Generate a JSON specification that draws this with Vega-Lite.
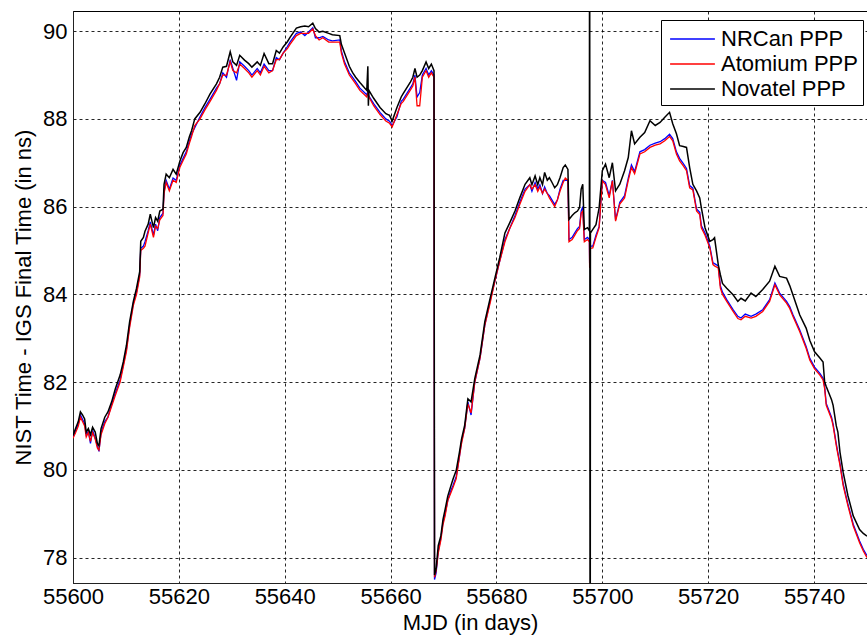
{
"$schema":"https://vega.github.io/schema/vega-lite/v6.json",
"width":794,"height":572,
"autosize":{"type":"none"},
"padding":{"left":73,"top":11,"right":0,"bottom":53},
"background":"white",
"config":{"font":"Liberation Sans","view":{"stroke":"#000","strokeWidth":1},
"axis":{"grid":true,"gridColor":"#000","gridDash":[3,3],"gridWidth":1,"gridOpacity":0.85,"ticks":false,"domainColor":"#222","domainWidth":1,"labelFont":"Liberation Sans","labelFontSize":22,"labelColor":"#000","titleFont":"Liberation Sans","titleFontSize":22,"titleFontWeight":"normal","titleColor":"#000"}},
"data":{"values":[
{"mjd":55600.0,"NRCan PPP":80.74,"Atomium PPP":80.72,"Novatel PPP":80.78},
{"mjd":55600.5,"NRCan PPP":80.9,"Atomium PPP":80.85,"Novatel PPP":80.95},
{"mjd":55601.0,"NRCan PPP":81.05,"Atomium PPP":81.0,"Novatel PPP":81.1},
{"mjd":55601.4,"NRCan PPP":81.25,"Atomium PPP":81.2,"Novatel PPP":81.32},
{"mjd":55601.8,"NRCan PPP":81.15,"Atomium PPP":81.1,"Novatel PPP":81.25},
{"mjd":55602.2,"NRCan PPP":81.05,"Atomium PPP":81.0,"Novatel PPP":81.16},
{"mjd":55602.5,"NRCan PPP":80.8,"Atomium PPP":80.75,"Novatel PPP":80.86},
{"mjd":55602.9,"NRCan PPP":80.88,"Atomium PPP":80.85,"Novatel PPP":80.94},
{"mjd":55603.3,"NRCan PPP":80.6,"Atomium PPP":80.65,"Novatel PPP":80.8},
{"mjd":55603.7,"NRCan PPP":80.9,"Atomium PPP":80.85,"Novatel PPP":80.97},
{"mjd":55604.2,"NRCan PPP":80.72,"Atomium PPP":80.7,"Novatel PPP":80.86},
{"mjd":55604.6,"NRCan PPP":80.55,"Atomium PPP":80.5,"Novatel PPP":80.6},
{"mjd":55604.9,"NRCan PPP":80.42,"Atomium PPP":80.45,"Novatel PPP":80.55},
{"mjd":55605.3,"NRCan PPP":80.85,"Atomium PPP":80.8,"Novatel PPP":80.94},
{"mjd":55606.0,"NRCan PPP":81.1,"Atomium PPP":81.05,"Novatel PPP":81.2},
{"mjd":55606.6,"NRCan PPP":81.2,"Atomium PPP":81.2,"Novatel PPP":81.32},
{"mjd":55607.3,"NRCan PPP":81.5,"Atomium PPP":81.45,"Novatel PPP":81.55},
{"mjd":55608.0,"NRCan PPP":81.75,"Atomium PPP":81.7,"Novatel PPP":81.85},
{"mjd":55608.9,"NRCan PPP":82.05,"Atomium PPP":82.0,"Novatel PPP":82.16},
{"mjd":55609.5,"NRCan PPP":82.4,"Atomium PPP":82.35,"Novatel PPP":82.46},
{"mjd":55610.1,"NRCan PPP":82.75,"Atomium PPP":82.7,"Novatel PPP":82.84},
{"mjd":55610.7,"NRCan PPP":83.3,"Atomium PPP":83.25,"Novatel PPP":83.38},
{"mjd":55611.4,"NRCan PPP":83.8,"Atomium PPP":83.75,"Novatel PPP":83.84},
{"mjd":55612.0,"NRCan PPP":84.05,"Atomium PPP":84.0,"Novatel PPP":84.14},
{"mjd":55612.6,"NRCan PPP":84.45,"Atomium PPP":84.4,"Novatel PPP":84.52},
{"mjd":55612.8,"NRCan PPP":85.05,"Atomium PPP":85.0,"Novatel PPP":85.21},
{"mjd":55613.3,"NRCan PPP":85.1,"Atomium PPP":85.05,"Novatel PPP":85.3},
{"mjd":55613.6,"NRCan PPP":85.2,"Atomium PPP":85.1,"Novatel PPP":85.44},
{"mjd":55614.2,"NRCan PPP":85.45,"Atomium PPP":85.4,"Novatel PPP":85.6},
{"mjd":55614.6,"NRCan PPP":85.65,"Atomium PPP":85.6,"Novatel PPP":85.83},
{"mjd":55615.2,"NRCan PPP":85.35,"Atomium PPP":85.3,"Novatel PPP":85.52},
{"mjd":55615.6,"NRCan PPP":85.6,"Atomium PPP":85.55,"Novatel PPP":85.75},
{"mjd":55616.0,"NRCan PPP":85.45,"Atomium PPP":85.5,"Novatel PPP":85.67},
{"mjd":55616.4,"NRCan PPP":85.75,"Atomium PPP":85.7,"Novatel PPP":85.9},
{"mjd":55617.0,"NRCan PPP":85.85,"Atomium PPP":85.8,"Novatel PPP":85.94},
{"mjd":55617.2,"NRCan PPP":86.35,"Atomium PPP":86.3,"Novatel PPP":86.51},
{"mjd":55617.6,"NRCan PPP":86.6,"Atomium PPP":86.55,"Novatel PPP":86.74},
{"mjd":55618.2,"NRCan PPP":86.4,"Atomium PPP":86.36,"Novatel PPP":86.66},
{"mjd":55618.9,"NRCan PPP":86.65,"Atomium PPP":86.6,"Novatel PPP":86.85},
{"mjd":55619.5,"NRCan PPP":86.6,"Atomium PPP":86.55,"Novatel PPP":86.74},
{"mjd":55620.2,"NRCan PPP":86.95,"Atomium PPP":86.9,"Novatel PPP":87.04},
{"mjd":55620.8,"NRCan PPP":87.1,"Atomium PPP":87.05,"Novatel PPP":87.23},
{"mjd":55621.4,"NRCan PPP":87.25,"Atomium PPP":87.2,"Novatel PPP":87.35},
{"mjd":55622.0,"NRCan PPP":87.5,"Atomium PPP":87.45,"Novatel PPP":87.6},
{"mjd":55622.4,"NRCan PPP":87.65,"Atomium PPP":87.6,"Novatel PPP":87.73},
{"mjd":55623.0,"NRCan PPP":87.8,"Atomium PPP":87.85,"Novatel PPP":88.0},
{"mjd":55624.0,"NRCan PPP":88.05,"Atomium PPP":88.0,"Novatel PPP":88.15},
{"mjd":55624.9,"NRCan PPP":88.25,"Atomium PPP":88.2,"Novatel PPP":88.34},
{"mjd":55625.9,"NRCan PPP":88.45,"Atomium PPP":88.4,"Novatel PPP":88.57},
{"mjd":55627.1,"NRCan PPP":88.7,"Atomium PPP":88.65,"Novatel PPP":88.8},
{"mjd":55627.7,"NRCan PPP":88.8,"Atomium PPP":88.8,"Novatel PPP":88.95},
{"mjd":55628.3,"NRCan PPP":89.05,"Atomium PPP":89.0,"Novatel PPP":89.18},
{"mjd":55629.0,"NRCan PPP":88.95,"Atomium PPP":89.0,"Novatel PPP":89.2},
{"mjd":55629.7,"NRCan PPP":89.35,"Atomium PPP":89.3,"Novatel PPP":89.53},
{"mjd":55630.2,"NRCan PPP":89.15,"Atomium PPP":89.1,"Novatel PPP":89.3},
{"mjd":55630.9,"NRCan PPP":88.88,"Atomium PPP":89.05,"Novatel PPP":89.22},
{"mjd":55631.5,"NRCan PPP":89.3,"Atomium PPP":89.25,"Novatel PPP":89.45},
{"mjd":55632.4,"NRCan PPP":89.2,"Atomium PPP":89.15,"Novatel PPP":89.34},
{"mjd":55633.2,"NRCan PPP":89.1,"Atomium PPP":89.05,"Novatel PPP":89.26},
{"mjd":55633.8,"NRCan PPP":89.0,"Atomium PPP":88.95,"Novatel PPP":89.18},
{"mjd":55634.8,"NRCan PPP":89.15,"Atomium PPP":89.1,"Novatel PPP":89.3},
{"mjd":55635.4,"NRCan PPP":89.05,"Atomium PPP":89.0,"Novatel PPP":89.22},
{"mjd":55636.1,"NRCan PPP":89.25,"Atomium PPP":89.2,"Novatel PPP":89.49},
{"mjd":55637.0,"NRCan PPP":89.1,"Atomium PPP":89.05,"Novatel PPP":89.26},
{"mjd":55637.7,"NRCan PPP":89.1,"Atomium PPP":89.1,"Novatel PPP":89.26},
{"mjd":55638.4,"NRCan PPP":89.4,"Atomium PPP":89.35,"Novatel PPP":89.56},
{"mjd":55639.0,"NRCan PPP":89.35,"Atomium PPP":89.35,"Novatel PPP":89.5},
{"mjd":55639.7,"NRCan PPP":89.5,"Atomium PPP":89.5,"Novatel PPP":89.64},
{"mjd":55640.5,"NRCan PPP":89.65,"Atomium PPP":89.6,"Novatel PPP":89.76},
{"mjd":55641.0,"NRCan PPP":89.75,"Atomium PPP":89.7,"Novatel PPP":89.86},
{"mjd":55642.2,"NRCan PPP":89.95,"Atomium PPP":89.9,"Novatel PPP":90.07},
{"mjd":55643.0,"NRCan PPP":89.98,"Atomium PPP":89.95,"Novatel PPP":90.1},
{"mjd":55643.8,"NRCan PPP":89.9,"Atomium PPP":89.95,"Novatel PPP":90.12},
{"mjd":55644.5,"NRCan PPP":89.98,"Atomium PPP":89.95,"Novatel PPP":90.1},
{"mjd":55645.3,"NRCan PPP":90.08,"Atomium PPP":90.05,"Novatel PPP":90.18},
{"mjd":55645.8,"NRCan PPP":89.85,"Atomium PPP":89.9,"Novatel PPP":90.06},
{"mjd":55646.5,"NRCan PPP":89.85,"Atomium PPP":89.8,"Novatel PPP":89.98},
{"mjd":55647.2,"NRCan PPP":89.88,"Atomium PPP":89.85,"Novatel PPP":90.0},
{"mjd":55648.3,"NRCan PPP":89.8,"Atomium PPP":89.75,"Novatel PPP":89.95},
{"mjd":55649.0,"NRCan PPP":89.78,"Atomium PPP":89.75,"Novatel PPP":89.92},
{"mjd":55650.4,"NRCan PPP":89.8,"Atomium PPP":89.75,"Novatel PPP":89.9},
{"mjd":55650.7,"NRCan PPP":89.55,"Atomium PPP":89.5,"Novatel PPP":89.7},
{"mjd":55651.3,"NRCan PPP":89.3,"Atomium PPP":89.25,"Novatel PPP":89.5},
{"mjd":55652.2,"NRCan PPP":89.05,"Atomium PPP":89.0,"Novatel PPP":89.2},
{"mjd":55652.8,"NRCan PPP":88.95,"Atomium PPP":88.9,"Novatel PPP":89.06},
{"mjd":55653.4,"NRCan PPP":88.85,"Atomium PPP":88.8,"Novatel PPP":88.95},
{"mjd":55654.2,"NRCan PPP":88.7,"Atomium PPP":88.65,"Novatel PPP":88.83},
{"mjd":55655.5,"NRCan PPP":88.55,"Atomium PPP":88.5,"Novatel PPP":88.65},
{"mjd":55655.7,"NRCan PPP":88.62,"Atomium PPP":88.6,"Novatel PPP":89.2},
{"mjd":55655.8,"NRCan PPP":88.58,"Atomium PPP":88.55,"Novatel PPP":88.3},
{"mjd":55655.9,"NRCan PPP":88.52,"Atomium PPP":88.5,"Novatel PPP":88.65},
{"mjd":55656.8,"NRCan PPP":88.35,"Atomium PPP":88.3,"Novatel PPP":88.47},
{"mjd":55658.0,"NRCan PPP":88.15,"Atomium PPP":88.1,"Novatel PPP":88.26},
{"mjd":55659.1,"NRCan PPP":88.0,"Atomium PPP":87.95,"Novatel PPP":88.12},
{"mjd":55659.8,"NRCan PPP":87.95,"Atomium PPP":87.9,"Novatel PPP":88.08},
{"mjd":55660.3,"NRCan PPP":87.85,"Atomium PPP":87.82,"Novatel PPP":87.95},
{"mjd":55661.2,"NRCan PPP":88.05,"Atomium PPP":88.1,"Novatel PPP":88.26},
{"mjd":55662.0,"NRCan PPP":88.4,"Atomium PPP":88.35,"Novatel PPP":88.5},
{"mjd":55662.4,"NRCan PPP":88.45,"Atomium PPP":88.4,"Novatel PPP":88.58},
{"mjd":55663.7,"NRCan PPP":88.7,"Atomium PPP":88.65,"Novatel PPP":88.83},
{"mjd":55664.2,"NRCan PPP":88.8,"Atomium PPP":88.75,"Novatel PPP":88.95},
{"mjd":55664.6,"NRCan PPP":89.0,"Atomium PPP":88.95,"Novatel PPP":89.15},
{"mjd":55665.0,"NRCan PPP":88.5,"Atomium PPP":88.3,"Novatel PPP":88.95},
{"mjd":55665.5,"NRCan PPP":88.6,"Atomium PPP":88.3,"Novatel PPP":89.0},
{"mjd":55666.0,"NRCan PPP":89.0,"Atomium PPP":88.95,"Novatel PPP":89.1},
{"mjd":55666.7,"NRCan PPP":89.15,"Atomium PPP":89.1,"Novatel PPP":89.3},
{"mjd":55667.2,"NRCan PPP":89.0,"Atomium PPP":88.95,"Novatel PPP":89.15},
{"mjd":55667.7,"NRCan PPP":89.1,"Atomium PPP":89.05,"Novatel PPP":89.25},
{"mjd":55668.2,"NRCan PPP":89.0,"Atomium PPP":88.95,"Novatel PPP":89.1},
{"mjd":55668.3,"NRCan PPP":77.5,"Atomium PPP":77.55,"Novatel PPP":77.6},
{"mjd":55668.6,"NRCan PPP":77.65,"Atomium PPP":77.7,"Novatel PPP":77.75},
{"mjd":55669.0,"NRCan PPP":78.15,"Atomium PPP":78.1,"Novatel PPP":78.27},
{"mjd":55669.5,"NRCan PPP":78.45,"Atomium PPP":78.4,"Novatel PPP":78.5},
{"mjd":55669.9,"NRCan PPP":78.8,"Atomium PPP":78.75,"Novatel PPP":78.87},
{"mjd":55670.3,"NRCan PPP":79.0,"Atomium PPP":78.95,"Novatel PPP":79.1},
{"mjd":55670.8,"NRCan PPP":79.3,"Atomium PPP":79.3,"Novatel PPP":79.4},
{"mjd":55671.3,"NRCan PPP":79.5,"Atomium PPP":79.45,"Novatel PPP":79.6},
{"mjd":55671.8,"NRCan PPP":79.65,"Atomium PPP":79.6,"Novatel PPP":79.79},
{"mjd":55672.4,"NRCan PPP":79.85,"Atomium PPP":79.8,"Novatel PPP":79.99},
{"mjd":55673.0,"NRCan PPP":80.3,"Atomium PPP":80.3,"Novatel PPP":80.4},
{"mjd":55673.4,"NRCan PPP":80.65,"Atomium PPP":80.6,"Novatel PPP":80.7},
{"mjd":55674.0,"NRCan PPP":80.95,"Atomium PPP":80.95,"Novatel PPP":81.02},
{"mjd":55674.6,"NRCan PPP":81.55,"Atomium PPP":81.5,"Novatel PPP":81.62},
{"mjd":55675.2,"NRCan PPP":81.25,"Atomium PPP":81.3,"Novatel PPP":81.55},
{"mjd":55675.9,"NRCan PPP":82.0,"Atomium PPP":82.0,"Novatel PPP":82.08},
{"mjd":55676.9,"NRCan PPP":82.55,"Atomium PPP":82.55,"Novatel PPP":82.62},
{"mjd":55677.8,"NRCan PPP":83.3,"Atomium PPP":83.3,"Novatel PPP":83.38},
{"mjd":55678.8,"NRCan PPP":83.85,"Atomium PPP":83.8,"Novatel PPP":83.91},
{"mjd":55679.7,"NRCan PPP":84.3,"Atomium PPP":84.3,"Novatel PPP":84.37},
{"mjd":55680.6,"NRCan PPP":84.75,"Atomium PPP":84.75,"Novatel PPP":84.83},
{"mjd":55681.6,"NRCan PPP":85.25,"Atomium PPP":85.2,"Novatel PPP":85.4},
{"mjd":55682.5,"NRCan PPP":85.5,"Atomium PPP":85.5,"Novatel PPP":85.63},
{"mjd":55683.5,"NRCan PPP":85.8,"Atomium PPP":85.75,"Novatel PPP":85.9},
{"mjd":55684.4,"NRCan PPP":86.1,"Atomium PPP":86.05,"Novatel PPP":86.2},
{"mjd":55685.4,"NRCan PPP":86.4,"Atomium PPP":86.35,"Novatel PPP":86.51},
{"mjd":55686.3,"NRCan PPP":86.5,"Atomium PPP":86.5,"Novatel PPP":86.66},
{"mjd":55686.7,"NRCan PPP":86.35,"Atomium PPP":86.4,"Novatel PPP":86.5},
{"mjd":55687.3,"NRCan PPP":86.55,"Atomium PPP":86.5,"Novatel PPP":86.7},
{"mjd":55687.8,"NRCan PPP":86.4,"Atomium PPP":86.35,"Novatel PPP":86.5},
{"mjd":55688.2,"NRCan PPP":86.5,"Atomium PPP":86.45,"Novatel PPP":86.66},
{"mjd":55688.7,"NRCan PPP":86.3,"Atomium PPP":86.3,"Novatel PPP":86.5},
{"mjd":55689.1,"NRCan PPP":86.45,"Atomium PPP":86.4,"Novatel PPP":86.78},
{"mjd":55689.6,"NRCan PPP":86.3,"Atomium PPP":86.3,"Novatel PPP":86.6},
{"mjd":55690.0,"NRCan PPP":86.25,"Atomium PPP":86.2,"Novatel PPP":86.66},
{"mjd":55690.5,"NRCan PPP":86.15,"Atomium PPP":86.1,"Novatel PPP":86.55},
{"mjd":55691.0,"NRCan PPP":86.05,"Atomium PPP":86.0,"Novatel PPP":86.43},
{"mjd":55691.5,"NRCan PPP":86.15,"Atomium PPP":86.15,"Novatel PPP":86.5},
{"mjd":55692.0,"NRCan PPP":86.4,"Atomium PPP":86.35,"Novatel PPP":86.66},
{"mjd":55692.6,"NRCan PPP":86.6,"Atomium PPP":86.55,"Novatel PPP":86.89},
{"mjd":55693.0,"NRCan PPP":86.6,"Atomium PPP":86.65,"Novatel PPP":86.95},
{"mjd":55693.5,"NRCan PPP":86.6,"Atomium PPP":86.6,"Novatel PPP":86.85},
{"mjd":55693.7,"NRCan PPP":85.25,"Atomium PPP":85.2,"Novatel PPP":85.71},
{"mjd":55694.3,"NRCan PPP":85.3,"Atomium PPP":85.25,"Novatel PPP":85.8},
{"mjd":55694.8,"NRCan PPP":85.4,"Atomium PPP":85.35,"Novatel PPP":85.86},
{"mjd":55695.3,"NRCan PPP":85.5,"Atomium PPP":85.45,"Novatel PPP":85.9},
{"mjd":55695.7,"NRCan PPP":85.55,"Atomium PPP":85.5,"Novatel PPP":85.98},
{"mjd":55696.0,"NRCan PPP":85.9,"Atomium PPP":85.85,"Novatel PPP":86.4},
{"mjd":55696.3,"NRCan PPP":86.0,"Atomium PPP":85.9,"Novatel PPP":86.51},
{"mjd":55696.6,"NRCan PPP":85.25,"Atomium PPP":85.2,"Novatel PPP":85.48},
{"mjd":55697.2,"NRCan PPP":85.3,"Atomium PPP":85.25,"Novatel PPP":85.52},
{"mjd":55697.55,"NRCan PPP":85.25,"Atomium PPP":85.2,"Novatel PPP":85.45},
{"mjd":55697.6,"NRCan PPP":84.7,"Atomium PPP":84.6,"Novatel PPP":96},
{"mjd":55697.7,"NRCan PPP":85.15,"Atomium PPP":85.1,"Novatel PPP":70},
{"mjd":55697.75,"NRCan PPP":85.1,"Atomium PPP":85.05,"Novatel PPP":85.4},
{"mjd":55698.2,"NRCan PPP":85.1,"Atomium PPP":85.06,"Novatel PPP":85.48},
{"mjd":55698.8,"NRCan PPP":85.35,"Atomium PPP":85.3,"Novatel PPP":85.59},
{"mjd":55699.4,"NRCan PPP":85.55,"Atomium PPP":85.52,"Novatel PPP":85.98},
{"mjd":55700.0,"NRCan PPP":86.6,"Atomium PPP":86.59,"Novatel PPP":86.82},
{"mjd":55700.6,"NRCan PPP":86.55,"Atomium PPP":86.5,"Novatel PPP":86.97},
{"mjd":55701.3,"NRCan PPP":86.25,"Atomium PPP":86.2,"Novatel PPP":86.66},
{"mjd":55701.9,"NRCan PPP":86.6,"Atomium PPP":86.59,"Novatel PPP":87.0},
{"mjd":55702.5,"NRCan PPP":85.7,"Atomium PPP":85.67,"Novatel PPP":86.36},
{"mjd":55703.3,"NRCan PPP":86.1,"Atomium PPP":86.06,"Novatel PPP":86.51},
{"mjd":55704.2,"NRCan PPP":86.25,"Atomium PPP":86.2,"Novatel PPP":86.82},
{"mjd":55704.9,"NRCan PPP":86.65,"Atomium PPP":86.6,"Novatel PPP":87.12},
{"mjd":55705.5,"NRCan PPP":86.95,"Atomium PPP":86.89,"Novatel PPP":87.73},
{"mjd":55706.1,"NRCan PPP":86.8,"Atomium PPP":86.75,"Novatel PPP":87.43},
{"mjd":55707.1,"NRCan PPP":87.25,"Atomium PPP":87.2,"Novatel PPP":87.58},
{"mjd":55708.0,"NRCan PPP":87.3,"Atomium PPP":87.25,"Novatel PPP":87.69},
{"mjd":55709.0,"NRCan PPP":87.4,"Atomium PPP":87.35,"Novatel PPP":87.96},
{"mjd":55710.0,"NRCan PPP":87.45,"Atomium PPP":87.4,"Novatel PPP":87.85},
{"mjd":55710.9,"NRCan PPP":87.48,"Atomium PPP":87.43,"Novatel PPP":87.92},
{"mjd":55711.8,"NRCan PPP":87.55,"Atomium PPP":87.5,"Novatel PPP":88.04},
{"mjd":55712.7,"NRCan PPP":87.65,"Atomium PPP":87.6,"Novatel PPP":88.15},
{"mjd":55713.3,"NRCan PPP":87.55,"Atomium PPP":87.5,"Novatel PPP":87.89},
{"mjd":55714.0,"NRCan PPP":87.25,"Atomium PPP":87.2,"Novatel PPP":87.66},
{"mjd":55714.6,"NRCan PPP":87.1,"Atomium PPP":87.04,"Novatel PPP":87.39},
{"mjd":55715.3,"NRCan PPP":86.98,"Atomium PPP":86.93,"Novatel PPP":87.37},
{"mjd":55715.9,"NRCan PPP":86.87,"Atomium PPP":86.82,"Novatel PPP":87.35},
{"mjd":55716.5,"NRCan PPP":86.48,"Atomium PPP":86.43,"Novatel PPP":86.89},
{"mjd":55717.1,"NRCan PPP":86.42,"Atomium PPP":86.38,"Novatel PPP":86.51},
{"mjd":55717.8,"NRCan PPP":85.95,"Atomium PPP":85.9,"Novatel PPP":86.36},
{"mjd":55718.4,"NRCan PPP":85.87,"Atomium PPP":85.82,"Novatel PPP":86.2},
{"mjd":55718.7,"NRCan PPP":85.57,"Atomium PPP":85.52,"Novatel PPP":85.98},
{"mjd":55719.4,"NRCan PPP":85.4,"Atomium PPP":85.35,"Novatel PPP":85.52},
{"mjd":55720.3,"NRCan PPP":85.1,"Atomium PPP":85.06,"Novatel PPP":85.21},
{"mjd":55720.9,"NRCan PPP":84.72,"Atomium PPP":84.68,"Novatel PPP":85.25},
{"mjd":55721.2,"NRCan PPP":84.7,"Atomium PPP":84.65,"Novatel PPP":85.29},
{"mjd":55721.9,"NRCan PPP":84.65,"Atomium PPP":84.6,"Novatel PPP":84.68},
{"mjd":55722.3,"NRCan PPP":84.2,"Atomium PPP":84.14,"Novatel PPP":84.45},
{"mjd":55722.7,"NRCan PPP":84.05,"Atomium PPP":84.0,"Novatel PPP":84.25},
{"mjd":55723.5,"NRCan PPP":83.88,"Atomium PPP":83.84,"Novatel PPP":84.14},
{"mjd":55724.7,"NRCan PPP":83.65,"Atomium PPP":83.61,"Novatel PPP":83.99},
{"mjd":55725.6,"NRCan PPP":83.5,"Atomium PPP":83.45,"Novatel PPP":83.84},
{"mjd":55726.2,"NRCan PPP":83.46,"Atomium PPP":83.42,"Novatel PPP":83.91},
{"mjd":55727.0,"NRCan PPP":83.55,"Atomium PPP":83.5,"Novatel PPP":83.85},
{"mjd":55728.1,"NRCan PPP":83.5,"Atomium PPP":83.46,"Novatel PPP":84.03},
{"mjd":55729.0,"NRCan PPP":83.55,"Atomium PPP":83.5,"Novatel PPP":83.95},
{"mjd":55730.3,"NRCan PPP":83.65,"Atomium PPP":83.61,"Novatel PPP":84.11},
{"mjd":55731.6,"NRCan PPP":83.88,"Atomium PPP":83.84,"Novatel PPP":84.3},
{"mjd":55732.6,"NRCan PPP":84.26,"Atomium PPP":84.22,"Novatel PPP":84.64},
{"mjd":55733.5,"NRCan PPP":84.03,"Atomium PPP":83.99,"Novatel PPP":84.41},
{"mjd":55734.8,"NRCan PPP":83.84,"Atomium PPP":83.8,"Novatel PPP":84.37},
{"mjd":55735.4,"NRCan PPP":83.72,"Atomium PPP":83.68,"Novatel PPP":84.2},
{"mjd":55736.0,"NRCan PPP":83.54,"Atomium PPP":83.5,"Novatel PPP":83.99},
{"mjd":55737.3,"NRCan PPP":83.19,"Atomium PPP":83.15,"Novatel PPP":83.53},
{"mjd":55738.5,"NRCan PPP":82.81,"Atomium PPP":82.77,"Novatel PPP":83.23},
{"mjd":55739.2,"NRCan PPP":82.54,"Atomium PPP":82.5,"Novatel PPP":82.95},
{"mjd":55740.1,"NRCan PPP":82.34,"Atomium PPP":82.3,"Novatel PPP":82.69},
{"mjd":55741.1,"NRCan PPP":82.2,"Atomium PPP":82.16,"Novatel PPP":82.55},
{"mjd":55741.7,"NRCan PPP":82.09,"Atomium PPP":82.05,"Novatel PPP":82.46},
{"mjd":55742.0,"NRCan PPP":81.89,"Atomium PPP":81.85,"Novatel PPP":82.0},
{"mjd":55742.3,"NRCan PPP":81.51,"Atomium PPP":81.47,"Novatel PPP":81.9},
{"mjd":55743.3,"NRCan PPP":81.2,"Atomium PPP":81.16,"Novatel PPP":81.6},
{"mjd":55743.6,"NRCan PPP":81.04,"Atomium PPP":81.0,"Novatel PPP":81.47},
{"mjd":55744.2,"NRCan PPP":80.59,"Atomium PPP":80.55,"Novatel PPP":81.0},
{"mjd":55744.5,"NRCan PPP":80.39,"Atomium PPP":80.35,"Novatel PPP":80.86},
{"mjd":55744.9,"NRCan PPP":80.14,"Atomium PPP":80.1,"Novatel PPP":80.4},
{"mjd":55745.5,"NRCan PPP":79.68,"Atomium PPP":79.64,"Novatel PPP":79.94},
{"mjd":55746.4,"NRCan PPP":79.22,"Atomium PPP":79.18,"Novatel PPP":79.41},
{"mjd":55747.4,"NRCan PPP":78.76,"Atomium PPP":78.72,"Novatel PPP":78.95},
{"mjd":55748.6,"NRCan PPP":78.38,"Atomium PPP":78.34,"Novatel PPP":78.64},
{"mjd":55749.3,"NRCan PPP":78.19,"Atomium PPP":78.15,"Novatel PPP":78.55},
{"mjd":55750.0,"NRCan PPP":78.04,"Atomium PPP":78.0,"Novatel PPP":78.49}
]},
"transform":[{"fold":["NRCan PPP","Atomium PPP","Novatel PPP"],"as":["series","ns"]}],
"encoding":{
"x":{"field":"mjd","type":"quantitative","scale":{"domain":[55600,55750],"nice":false,"zero":false},
 "axis":{"values":[55600,55620,55640,55660,55680,55700,55720,55740],"format":"d","title":"MJD (in days)","labelFlush":false,"labelPadding":3,"titlePadding":5}},
"y":{"field":"ns","type":"quantitative","scale":{"domain":[77.42,90.46],"nice":false,"zero":false},
 "axis":{"values":[78,80,82,84,86,88,90],"title":"NIST Time - IGS Final Time (in ns)","labelPadding":6,"titlePadding":7}},
"color":{"field":"series","type":"nominal","scale":{"domain":["NRCan PPP","Atomium PPP","Novatel PPP"],"range":["#0000ff","#ff0000","#000000"]},
 "legend":{"title":null,"orient":"none","legendX":588,"legendY":9,"fillColor":"#ffffff","strokeColor":"#000000","padding":5,"labelFont":"Liberation Sans","labelFontSize":22,"labelColor":"#000","symbolType":"M-1.6,-0.045L1.6,-0.045L1.6,0.045L-1.6,0.045Z","symbolSize":784,"symbolStrokeWidth":0,"symbolOffset":12.5,"rowPadding":0,"labelOffset":14.5,
 "encode":{"symbols":{"update":{"fill":{"scale":"color","field":"value"},"fillOpacity":{"value":1},"strokeWidth":{"value":0}}}}}}
},
"layer":[
{"transform":[{"filter":"datum.series === 'NRCan PPP'"}],"mark":{"type":"line","clip":true,"strokeWidth":1.3}},
{"transform":[{"filter":"datum.series === 'Atomium PPP'"}],"mark":{"type":"line","clip":true,"strokeWidth":1.3}},
{"transform":[{"filter":"datum.series === 'Novatel PPP'"}],"mark":{"type":"line","clip":true,"strokeWidth":1.5}}
]
}
